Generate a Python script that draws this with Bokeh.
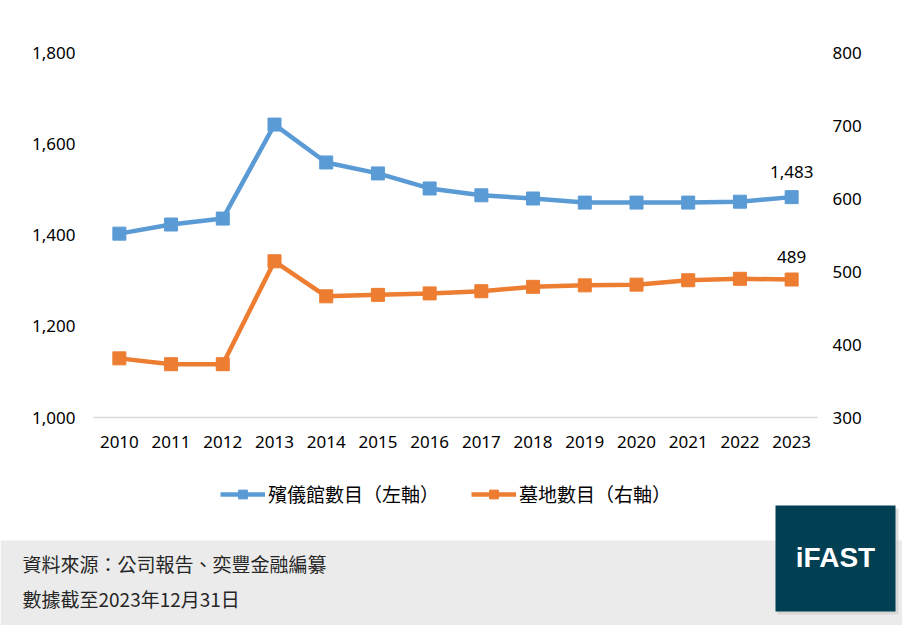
from bokeh.plotting import figure
from bokeh.layouts import column
from bokeh.models import (ColumnDataSource, FactorRange, Range1d, LinearAxis,
                          FixedTicker, NumeralTickFormatter, Legend, LegendItem)
from bokeh.core.properties import value
from bokeh.embed import file_html
from bokeh.resources import INLINE

# === Data ===
years = ["2010", "2011", "2012", "2013", "2014", "2015", "2016",
         "2017", "2018", "2019", "2020", "2021", "2022", "2023"]
funeral_homes = [1403, 1423, 1436, 1642, 1559, 1535, 1502,
                 1487, 1480, 1471, 1471, 1471, 1473, 1483]
cemeteries = [381, 373, 373, 514, 466, 468, 470,
              473, 479, 481, 482, 488, 490, 489]
left_ticks = [1000, 1200, 1400, 1600, 1800]
right_ticks = [300, 400, 500, 600, 700, 800]
name_left = "殯儀館數目（左軸）"
name_right = "墓地數目（右軸）"
source_note = "資料來源：公司報告、奕豐金融編纂"
date_note = "數據截至2023年12月31日"
brand = "iFAST"

BLUE = "#5B9BD5"
ORANGE = "#ED7D31"
TXT = "#000000"
FONT = "Noto Sans"
CJK = "Noto Sans CJK TC"

src = ColumnDataSource(dict(year=years, homes=funeral_homes, cem=cemeteries))
last = ColumnDataSource(dict(year=[years[-1]], homes=[funeral_homes[-1]],
                             cem=[cemeteries[-1]],
                             homes_txt=[f"{funeral_homes[-1]:,}"],
                             cem_txt=[f"{cemeteries[-1]:,}"]))

# ---------- Main chart ----------
p = figure(
    x_range=FactorRange(*years),
    y_range=Range1d(1000, 1800),
    width=902, height=470,
    min_border_left=93, min_border_right=85,
    min_border_top=52, min_border_bottom=53,
    toolbar_location=None, output_backend="svg",
    background_fill_color="white", border_fill_color="white",
    outline_line_color=None,
)
p.frame_align = False
p.extra_y_ranges = {"right": Range1d(300, 800)}

p.xgrid.visible = False
p.ygrid.visible = False

p.xaxis.axis_line_color = "#d9d9d9"
p.xaxis.axis_line_width = 1.5
p.xaxis.major_tick_line_color = None
p.xaxis.minor_tick_line_color = None
p.xaxis.major_label_standoff = 12
p.xaxis.major_label_text_font = FONT
p.xaxis.major_label_text_font_size = "17px"
p.xaxis.major_label_text_color = TXT

p.yaxis.ticker = FixedTicker(ticks=left_ticks)
p.yaxis.formatter = NumeralTickFormatter(format="0,0")
p.yaxis.axis_line_color = None
p.yaxis.major_tick_line_color = None
p.yaxis.minor_tick_line_color = None
p.yaxis.major_label_standoff = 12
p.yaxis.major_label_text_font = FONT
p.yaxis.major_label_text_font_size = "17px"
p.yaxis.major_label_text_color = TXT

ax_r = LinearAxis(y_range_name="right", ticker=FixedTicker(ticks=right_ticks))
ax_r.axis_line_color = None
ax_r.major_tick_line_color = None
ax_r.minor_tick_line_color = None
ax_r.major_label_standoff = 9
ax_r.major_label_text_font = FONT
ax_r.major_label_text_font_size = "17px"
ax_r.major_label_text_color = TXT
p.add_layout(ax_r, "right")

p.line("year", "homes", source=src, color=BLUE, line_width=4.5)
p.scatter("year", "homes", source=src, marker="square", size=13, color=BLUE)
p.line("year", "cem", source=src, color=ORANGE, line_width=4.5,
       y_range_name="right")
p.scatter("year", "cem", source=src, marker="square", size=13, color=ORANGE,
          y_range_name="right")

p.text("year", "homes", text="homes_txt", source=last, y_offset=-25,
       text_align="center", text_baseline="middle", text_color=TXT,
       text_font=value(FONT), text_font_size="17px")
p.text("year", "cem", text="cem_txt", source=last, y_offset=-23,
       text_align="center", text_baseline="middle", text_color=TXT,
       text_font=value(FONT), text_font_size="17px", y_range_name="right")

# ---------- Legend + footer panel (pixel-space canvas) ----------
f = figure(
    width=902, height=155,
    x_range=Range1d(0, 902), y_range=Range1d(155, 0),
    min_border=0, toolbar_location=None, output_backend="svg",
    background_fill_color="white", border_fill_color="white",
    outline_line_color=None, x_axis_location=None, y_axis_location=None,
)
f.frame_align = False
f.grid.visible = False

# grey footer band
f.quad(left=0, right=902, top=70, bottom=155, fill_color="#ebebeb",
       line_color=None)

# legend from off-screen stand-in renderers carrying the series' styles
lb = f.line(x=[-50, -40], y=[-50, -50], color=BLUE, line_width=4.5)
mb = f.scatter(x=[-50], y=[-50], marker="square", size=13, color=BLUE)
lo = f.line(x=[-50, -40], y=[-50, -50], color=ORANGE, line_width=4.5)
mo = f.scatter(x=[-50], y=[-50], marker="square", size=13, color=ORANGE)
legend = Legend(items=[LegendItem(label=name_left, renderers=[lb, mb]),
                       LegendItem(label=name_right, renderers=[lo, mo])],
                orientation="horizontal", location=(220, 118),
                glyph_width=45, glyph_height=22, label_height=22,
                label_standoff=3, spacing=32, padding=0, margin=0,
                border_line_color=None, background_fill_alpha=0,
                label_text_font=CJK, label_text_font_size="19px",
                label_text_color=TXT)
f.add_layout(legend)

f.text(x=[22, 22], y=[93, 128], text=[source_note, date_note],
       text_font=value(CJK), text_font_size="19px", text_color="#262626",
       text_baseline="middle")

# iFAST badge
f.quad(left=777, right=898, top=38, bottom=144, fill_color="#cfcfcf",
       fill_alpha=0.7, line_color=None)
f.quad(left=775, right=895, top=35, bottom=141, fill_color="#013f52",
       line_color=None)
f.text(x=[835], y=[87], text=[brand], text_font=value("Liberation Sans"),
       text_font_style="bold", text_font_size="28px", text_color="white",
       text_align="center", text_baseline="middle")

layout = column(p, f, spacing=0)
open("out.html", "w").write(file_html(layout, INLINE))
